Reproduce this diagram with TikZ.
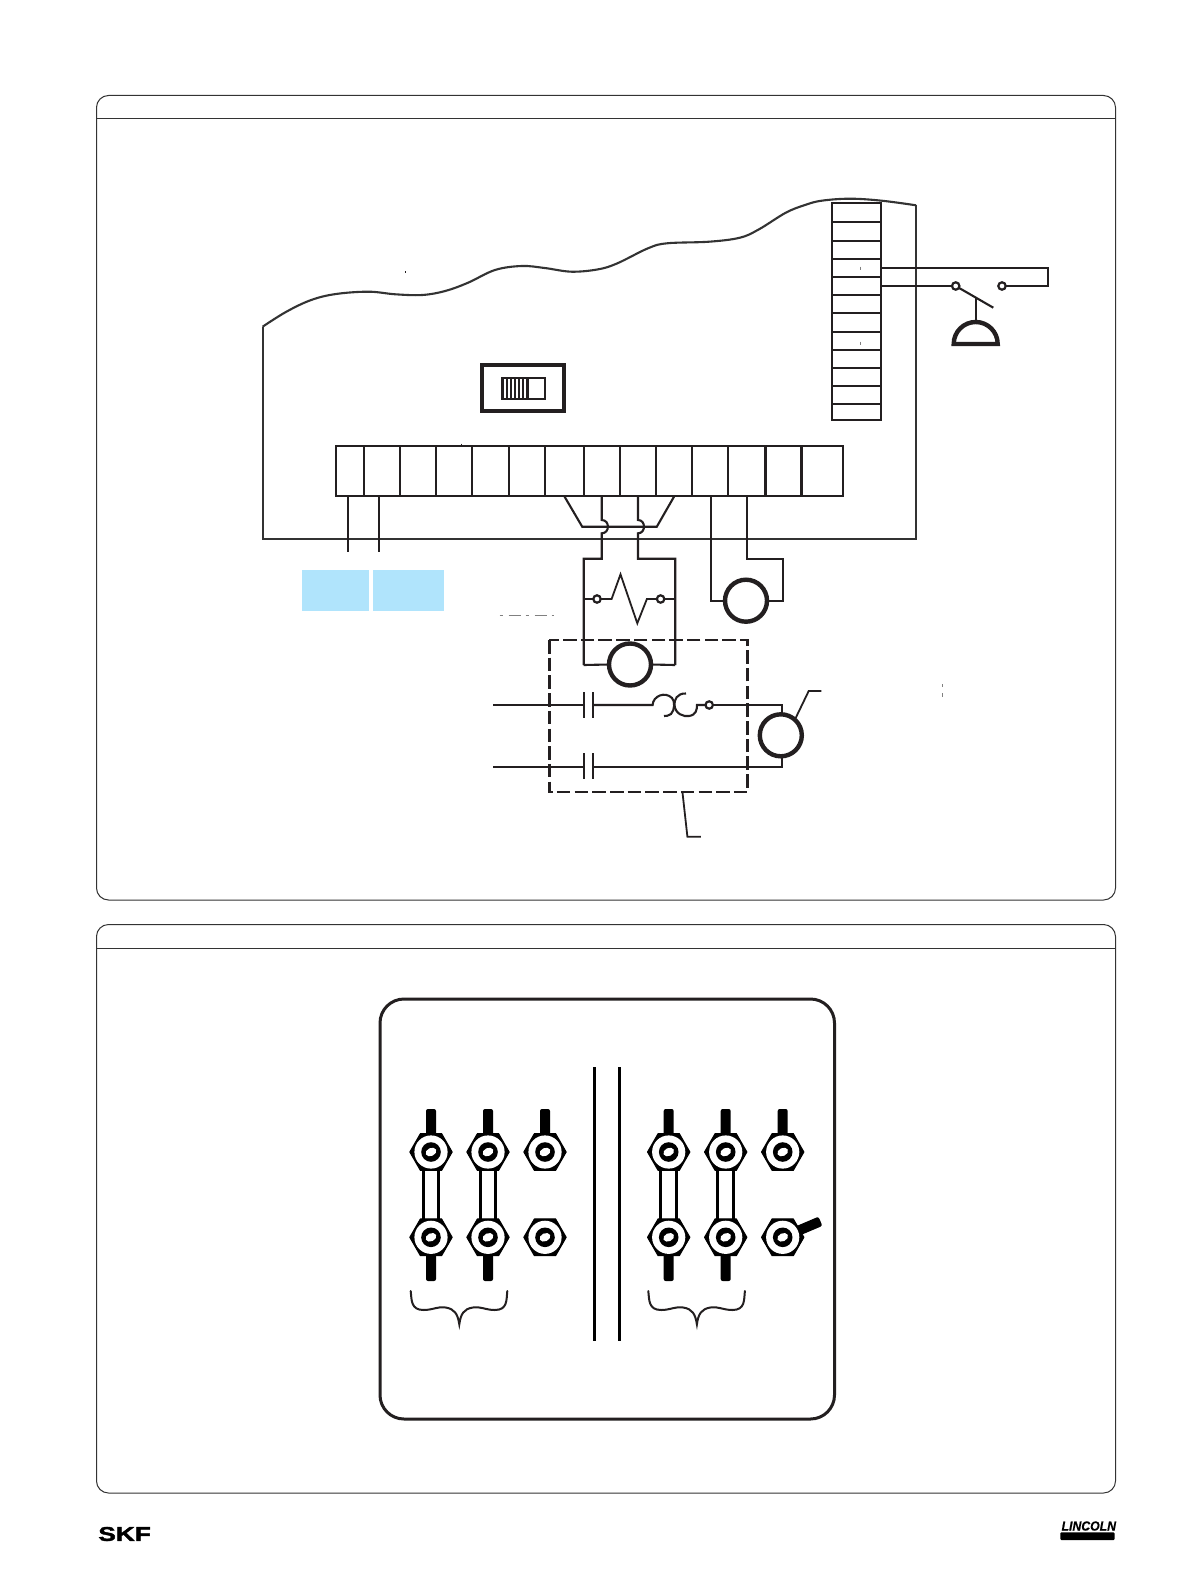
\documentclass[tikz,border=0pt]{standalone}
\usepackage{fontspec}
\setmainfont{Liberation Sans}
\newfontfamily\logofont[FakeBold=1.6]{Liberation Sans Bold}
\newfontfamily\logoital[FakeBold=0.6]{Liberation Sans Bold Italic}
\definecolor{ink}{HTML}{231F20}
\definecolor{panelink}{HTML}{333333}
\definecolor{skyblue}{HTML}{B0E4FC}
\tikzset{
  wire/.style={draw=ink,line width=2.1pt,line join=miter},
  encl/.style={draw=panelink,line width=2.1pt},
  panel/.style={draw=panelink,line width=1pt,rounded corners=12pt},
  coil/.style={circle,draw=ink,line width=4.4pt,minimum size=42pt,inner sep=0pt,outer sep=0pt,fill=white},
  term/.style={circle,draw=ink,line width=2.2pt,minimum size=7.4pt,inner sep=0pt,outer sep=0pt,fill=white},
  studbar/.style={fill=black,rounded corners=2pt},
  nutpic/.pic={
    \fill[black,line join=round,draw=black,line width=1pt] (-21.2,0)--(-10.6,-18.4)--(10.6,-18.4)--(21.2,0)--(10.6,18.4)--(-10.6,18.4)--cycle;
    \fill[white] (0,0) circle (16.6);
    \fill[black] (0,0) circle (9.8);
    \fill[white,rotate=25] (0,0) ellipse (5.6 and 4);
  }
}
\begin{document}
\begin{tikzpicture}[x=1pt,y=-1pt]
\useasboundingbox (0,0) rectangle (1191,1589);
\fill[white] (0,0) rectangle (1191,1589);
% panels
\draw[panel] (96.5,95.5) rectangle (1115.5,900);
\draw[draw=panelink,line width=1pt] (96.5,118.5) -- (1115.5,118.5);
\draw[panel] (96.5,924.5) rectangle (1115.5,1493);
\draw[draw=panelink,line width=1pt] (96.5,948) -- (1115.5,948);
% enclosure
\draw[encl,line join=miter]
  plot[smooth,tension=0.6] coordinates {(262.6,326.7) (286.4,311.7) (311.2,300) (336,294) (368.6,291.7) (395.4,294.3) (422.2,295) (445.2,291) (468.1,282.7) (495,270) (521.7,266) (544.7,268) (571.5,271.7) (598.3,269.3) (617.4,263.3) (648,248.3) (667.1,243.3) (709.2,241.7) (739.9,237.7) (759,229.3) (785.8,212.7) (805,205) (821.7,200.7) (850,198.7) (881.7,200.7) (916,205.3)};
\draw[encl] (916,205.3) -- (916,539.3) -- (262.6,539.3) -- (262.6,326.7);
% switch
\draw[draw=ink,line width=3.8pt] (481.8,365.2) rectangle (564.2,410.8);
\draw[draw=ink,line width=1.9pt] (502,378) rectangle (545,399);
\foreach \i in {0,...,6} \fill[ink] (502+\i*3.95,378) rectangle (504+\i*3.95,399);
\draw[draw=ink,line width=1.4pt] (528.3,378) -- (528.3,399);
% bottom terminal strip
\draw[wire] (336,445.7) rectangle (843.2,496);
\foreach \x in {363.7,400,436,472.3,508.7,545,583.7,620,656.4,692,728.4,765.5,801.5}
  \draw[wire] (\x,445.7) -- (\x,496);
% side terminal strip
\draw[wire] (831.7,203.3) rectangle (881,420);
\foreach \y in {222.3,241,259,276.7,295,313.3,331.7,350,368,386,404}
  \draw[wire] (831.7,\y) -- (881,\y);
% limit switch
\node[term] (swa) at (955.7,286) {};
\node[term] (swb) at (1002,286) {};
\coordinate (swtop) at (881,267.7);
\coordinate (swlow) at (881,286);
\draw[wire] (swtop) -- (1048.3,267.7) -- (1048.3,286) -- (swb);
\draw[wire] (swlow) -- (swa);
\coordinate (bladeend) at (993.3,307.7);
\coordinate (stem) at (975.7,298.3);
\coordinate (domeTop) at (975.7,322);
\draw[wire] (swa) -- (bladeend);
\draw[wire] (stem) -- (domeTop);
\draw[draw=ink,line width=4.4pt,line join=miter] (953.7,344) arc[start angle=180,end angle=360,x radius=22,y radius=22] -- cycle;
% strip tail wires
\draw[wire] (348,496) -- (348,551.7);
\draw[wire] (379,496) -- (379,551.7);
% blue boxes
\fill[skyblue] (302,570) rectangle (369,611);
\fill[skyblue] (372.8,570) rectangle (444,611);
% coil nodes
\node[term] (tha) at (597,599) {};
\node[term] (thb) at (660.6,599) {};
% crossover
\draw[wire] (564.6,496.7) -- (582.2,526.7) -- (656.8,526.7) -- (674,496.7);
\draw[wire] (601.7,496) -- (601.7,520) .. controls (610,520) and (610,533.3) .. (601.7,533.3) -- (601.7,558.7) -- (583.7,558.7) -- (583.7,665);
\draw[wire] (638,496) -- (638,520) .. controls (646,520) and (646,533.3) .. (638,533.3) -- (638,558.7) -- (675.2,558.7) -- (675.2,665);
% dashed box
\draw[draw=ink,line width=2.4pt,dash pattern=on 13.5pt off 4.2pt] (549.3,640) rectangle (747.5,791.7);
% thermal element
\draw[wire] (583.7,599) -- (tha);
\draw[wire,line width=1.8pt] (tha) -- (611.6,599) -- (620.5,574.3) -- (637.3,623.3) -- (646.9,599) -- (thb);
\draw[wire] (thb) -- (675.2,599);
% coil 1
\node[coil] (c1) at (630,664.5) {};
\draw[wire] (583.7,665) -- (c1.west);
\draw[wire] (675.2,665) -- (c1.east);
% coil 2
\node[coil] (c2) at (746,600.7) {};
\draw[wire] (710.8,496) -- (710.8,600.7) -- (c2.west);
\draw[wire] (747,496) -- (747,558.7) -- (783,558.7) -- (783,600.7) -- (c2.east);
% motor circuit
\node[term] (ol) at (709.2,705) {};
\node[coil] (m) at (780.8,735.3) {};
\coordinate (in1) at (493.4,705);
\coordinate (in2) at (493.4,767);
\draw[wire] (in1) -- (583.7,705);
\draw[wire] (583.7,692.3) -- (583.7,718.3);
\draw[wire] (593.3,692.3) -- (593.3,718.3);
\draw[wire] (593.3,705) -- (652.6,705)
  .. controls (653,696) and (665,691) .. (672,698) .. controls (675,701) and (675,710) .. (671,714) .. controls (668.5,716) and (666,716) .. (664,716);
\draw[wire] (686,693.5) .. controls (677,693) and (674,700) .. (674.5,705) .. controls (675,714) and (684,717) .. (689,716) .. controls (696,715) and (697,710) .. (697,705) -- (ol);
\draw[wire] (ol) -- (782,705) -- (m.north -| 782,0);
\draw[wire] (in2) -- (583.7,767);
\draw[wire] (583.7,753.3) -- (583.7,779.3);
\draw[wire] (593.3,753.3) -- (593.3,779.3);
\draw[wire] (593.3,767) -- (782,767) -- (m.south -| 782,0);
% leaders
\draw[wire,line width=1.8pt] (m.48) -- (808.7,691) -- (821.4,691);
\coordinate (boxleader) at (682.5,792.5);
\draw[wire,line width=1.8pt] (boxleader) -- (687.4,836.7) -- (700.8,836.7);
% remnants
\draw[draw=gray,line width=0.7pt,dash pattern=on 3pt off 6pt on 12pt off 5pt] (499.5,615) -- (554,615);
\draw[draw=gray,line width=0.7pt] (860,266.5) -- (860,270);
\draw[draw=gray,line width=0.7pt] (860,341.5) -- (860,345);
\draw[draw=gray,line width=0.7pt] (942.6,684) -- (942.6,687);
\draw[draw=gray,line width=0.7pt] (942.6,693) -- (942.6,697);
\draw[draw=ink,line width=0.8pt] (405,271) -- (405,273);
\draw[draw=ink,line width=0.8pt] (461,443.5) -- (461,445);
% lower rounded box
\draw[draw=ink,line width=3pt,rounded corners=24pt] (380,999) rectangle (834.5,1419);
\draw[draw=black,line width=2.6pt] (594.3,1067) -- (594.3,1340.7);
\draw[draw=black,line width=2.6pt] (619.3,1067) -- (619.3,1340.7);
% studs, links and nuts
\foreach \x in {431,488,668.7,725.7} {
  \fill[studbar] (\x-5,1109) rectangle (\x+5,1140);
  \fill[studbar] (\x-5,1250) rectangle (\x+5,1281);
  \draw[draw=black,line width=3pt,fill=white] (\x-7.8,1165) rectangle (\x+7.8,1224);
  \pic at (\x,1152) {nutpic};
  \pic at (\x,1237.3) {nutpic};
}
\foreach \x in {545,782.7} {
  \fill[studbar] (\x-5,1109) rectangle (\x+5,1140);
  \pic at (\x,1152) {nutpic};
}
\pic at (545,1237.3) {nutpic};
\begin{scope}[shift={(782.7,1237.3)},rotate=23]
  \fill[studbar] (5,-5) rectangle (41,5);
\end{scope}
\pic at (782.7,1237.3) {nutpic};
% braces
\foreach \x in {410.7,648.3} {
  \draw[draw=ink,line width=2pt,line cap=round] (\x,1291) .. controls (\x+1,1300) and (\x,1310) .. (\x+13,1310)
    .. controls (\x+22,1310) and (\x+28,1306) .. (\x+35,1307.5) .. controls (\x+44,1309) and (\x+47,1314) .. (\x+48.6,1324.3)
    .. controls (\x+50,1314) and (\x+53,1309) .. (\x+62,1307.5) .. controls (\x+69,1306) and (\x+75,1310) .. (\x+84,1310)
    .. controls (\x+97,1310) and (\x+95.6,1300) .. (\x+96.6,1291);
}
% logos
\node[inner sep=0pt,anchor=center,font=\logofont\fontsize{18.5}{18.5}\selectfont,xscale=1.42,yscale=1.08] (skf) at (124.6,1534) {SKF};
\node[inner sep=0pt,anchor=center,font=\logoital\fontsize{12.5}{12.5}\selectfont,xscale=0.98,yscale=1.05] (lincoln) at (1088.8,1526) {LINCOLN};
\fill[black,rounded corners=1pt] (1060.4,1532.3) rectangle (1114.5,1540);
\end{tikzpicture}
\end{document}
